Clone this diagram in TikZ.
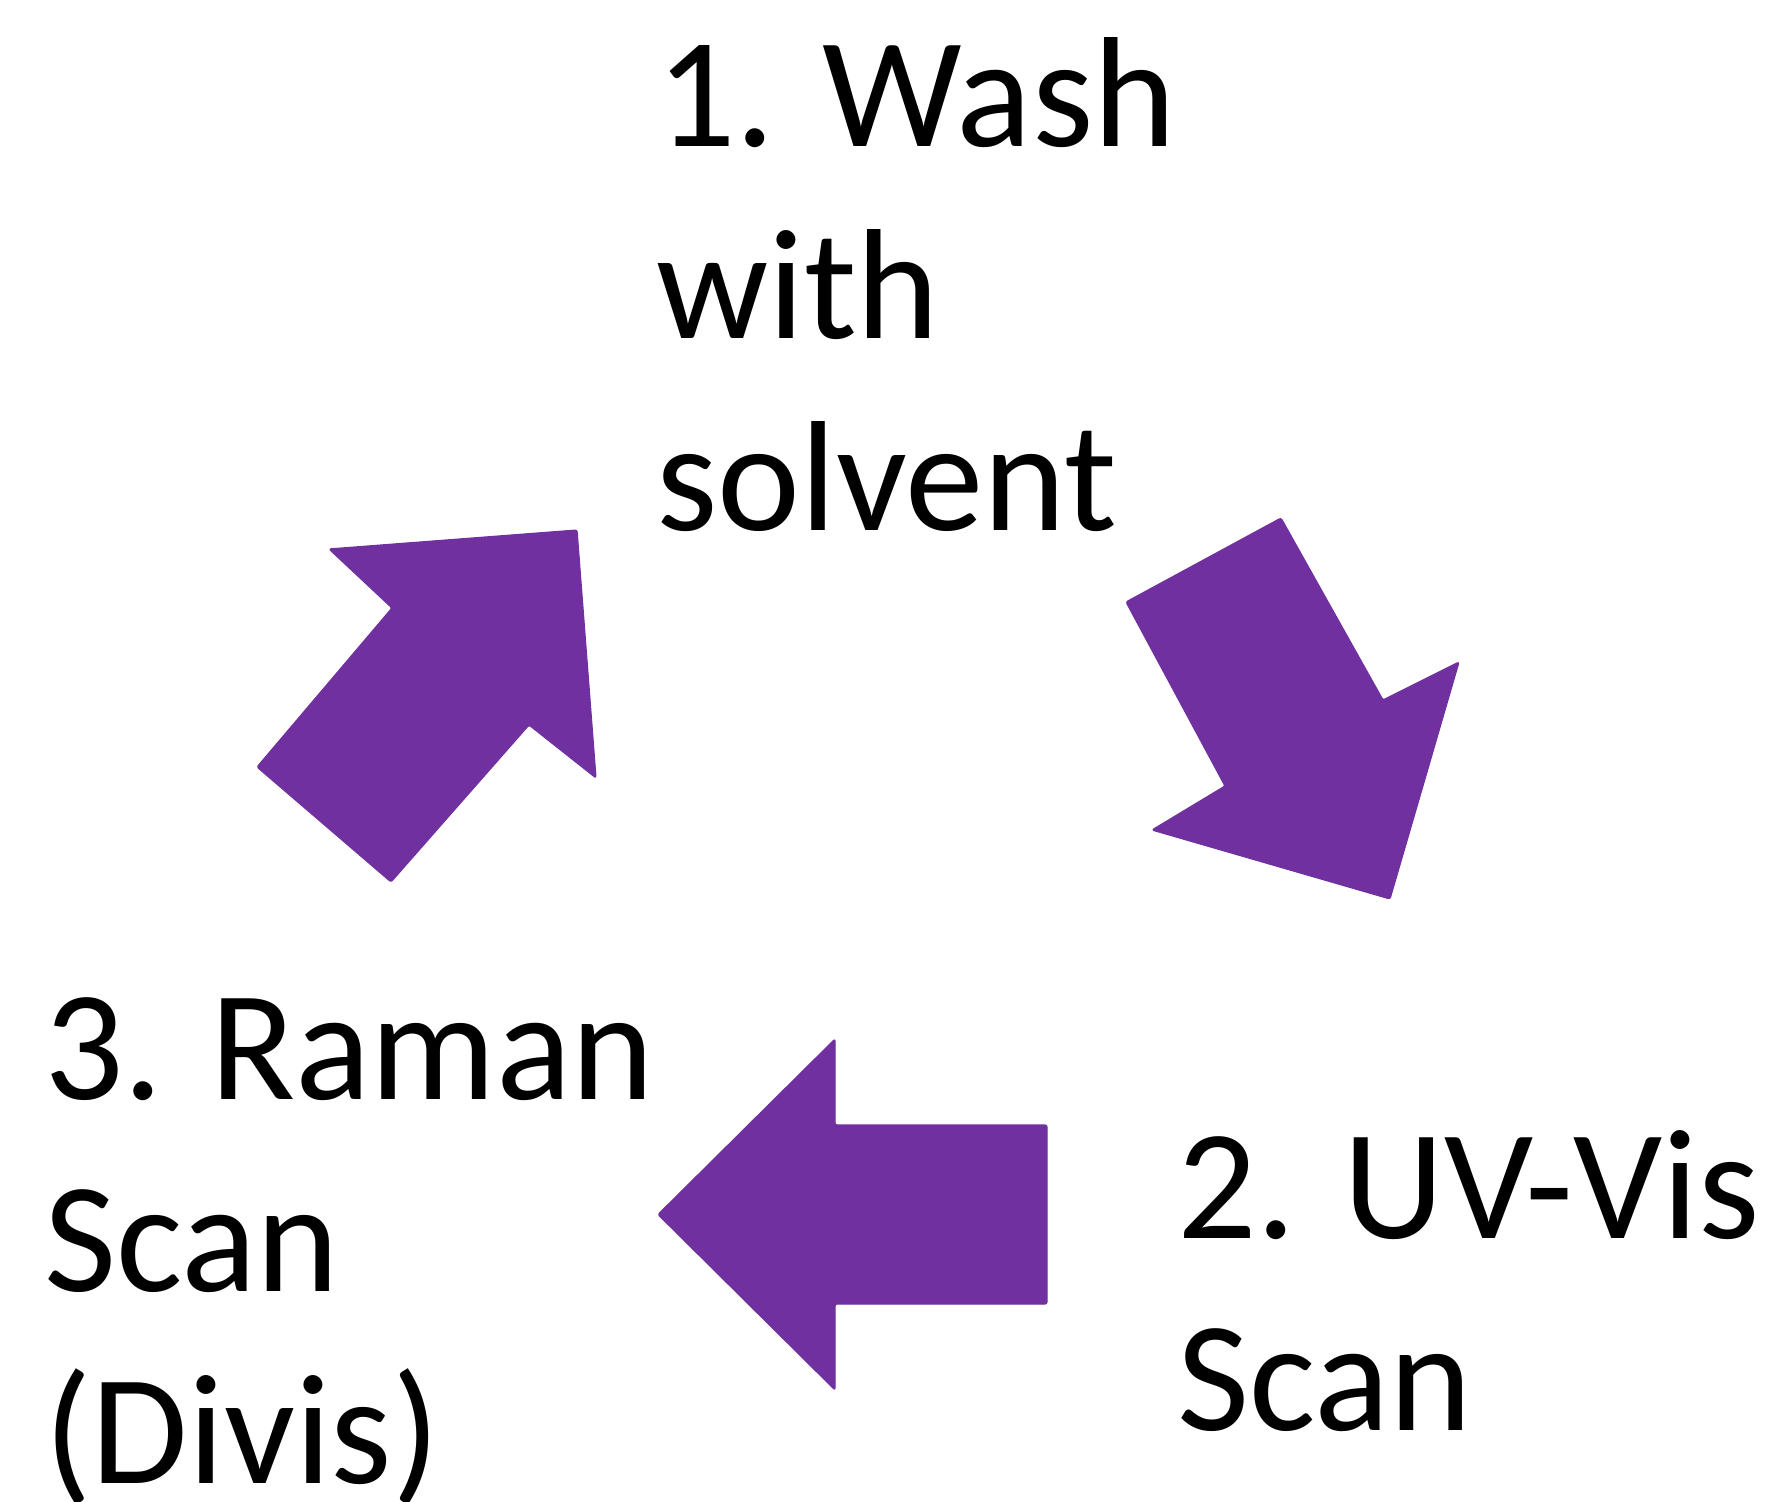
\documentclass[tikz,border=0pt]{standalone}
\usepackage{fontspec}
\setmainfont{Carlito}
\definecolor{cyclepurple}{HTML}{7030A0}
\tikzset{
  blockarrow/.style={fill=cyclepurple, draw=cyclepurple, line width=0.6pt, line join=round, rounded corners=1pt},
  steplabel/.style={anchor=base west, inner sep=0pt, outer sep=0pt, align=left,
    font=\fontsize{78.5pt}{96pt}\selectfont}
}
\begin{document}
\begin{tikzpicture}[x=0.5pt, y=-0.5pt]
  \useasboundingbox (0,0) rectangle (1784,1502);

  % step labels (anchored at the baseline of their last line)
  \node[steplabel] (wash)  at (656,531)  {1. Wash\\with\\solvent};
  \node[steplabel] (uvvis) at (1177,1430) {2. UV-Vis\\Scan};
  \node[steplabel] (raman) at (44,1483)  {3. Raman\\Scan\\(Divis)};

  % arrow from step 3 up to step 1
  \fill[blockarrow] (257,767) -- (391,882) -- (529,725) -- (596,778)
    -- (577,530) -- (329,549) -- (392,608) -- cycle;

  % arrow from step 1 down to step 2
  \fill[blockarrow] (1281,518) -- (1126,602) -- (1225,786) -- (1152,830)
    -- (1390,899) -- (1459,662) -- (1383,700) -- cycle;

  % arrow from step 2 across to step 3
  \fill[blockarrow] (658,1214.5) -- (835,1039) -- (835,1125) -- (1047,1125)
    -- (1047,1304) -- (835,1304) -- (835,1390) -- cycle;
\end{tikzpicture}
\end{document}
